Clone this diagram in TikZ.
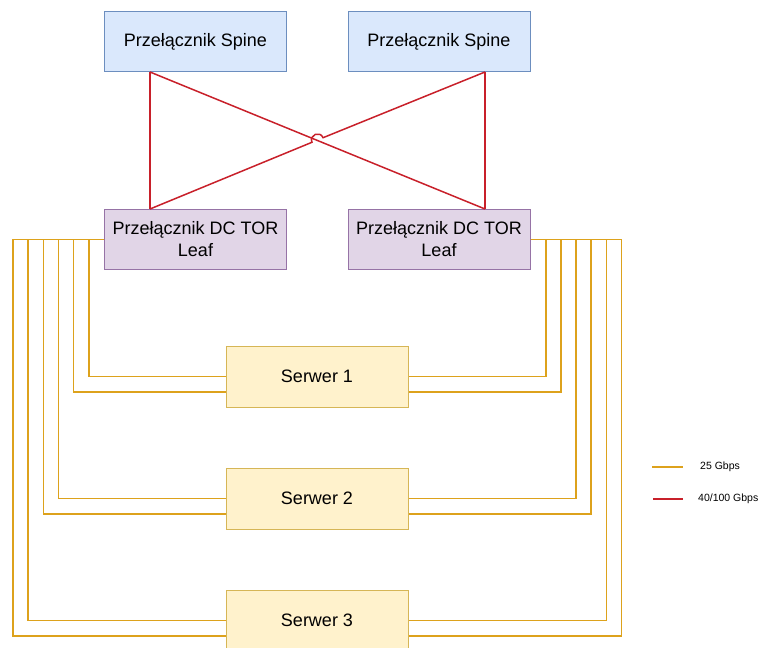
\documentclass[tikz,border=0pt]{standalone}
\usepackage{fontspec}
\setmainfont{Liberation Sans}
\definecolor{spinefill}{HTML}{DAE8FC}
\definecolor{spinedraw}{HTML}{6C8EBF}
\definecolor{leaffill}{HTML}{E1D5E7}
\definecolor{leafdraw}{HTML}{9673A6}
\definecolor{srvfill}{HTML}{FFF2CC}
\definecolor{srvdraw}{HTML}{D6B656}
\definecolor{wireyellow}{HTML}{DDA21C}
\definecolor{wirered}{HTML}{C8202A}
\begin{document}
\begin{tikzpicture}[x=1pt,y=-1pt,
box/.style={draw, line width=1pt, minimum width=182pt, minimum height=60pt, align=center, font=\fontsize{18}{22}\selectfont},
spinebox/.style={box, fill=spinefill, draw=spinedraw},
leafbox/.style={box, fill=leaffill, draw=leafdraw},
srvbox/.style={box, fill=srvfill, draw=srvdraw, minimum height=61pt},
wire/.style={draw=wireyellow, line width=1.4pt, line join=miter},
uplink/.style={draw=wirered, line width=1.5pt},
keytext/.style={anchor=west, inner sep=0pt, font=\fontsize{10.5}{12}\selectfont}]
\useasboundingbox (0,0) rectangle (758,648);
\node[spinebox] (sp1) at (195.5,41.5) {Przełącznik Spine};
\node[spinebox] (sp2) at (439,41.5) {Przełącznik Spine};
\node[leafbox] (lf1) at (195.5,239.5) {Przełącznik DC TOR\\Leaf};
\node[leafbox] (lf2) at (439,239.5) {Przełącznik DC TOR\\Leaf};
\node[srvbox] (srv1) at (317,376.5) {Serwer 1};
\node[srvbox] (srv2) at (317,498.5) {Serwer 2};
\node[srvbox] (srv3) at (317,620.5) {Serwer 3};
\path[uplink] ([xshift=-45.5pt]sp1.south) -- ([xshift=-45.5pt]lf1.north);
\path[uplink] ([xshift=46pt]sp2.south) -- ([xshift=46pt]lf2.north);
\path[uplink] ([xshift=-45.5pt]sp1.south) -- ([xshift=46pt]lf2.north);
\path[uplink] ([xshift=46pt]sp2.south) -- (323.05,137.71) .. controls (320,130.31) and (308.9,134.89) .. (311.95,142.29) -- ([xshift=-45.5pt]lf1.north);
\path[wire] (lf1.west) -- (89,239.5) |- (srv1.west);
\path[wire] (lf1.west) -- (73.5,239.5) |- ([yshift=-15.5pt]srv1.west);
\path[wire] (lf1.west) -- (58.5,239.5) |- (srv2.west);
\path[wire] (lf1.west) -- (43.5,239.5) |- ([yshift=-15.5pt]srv2.west);
\path[wire] (lf1.west) -- (28,239.5) |- (srv3.west);
\path[wire] (lf1.west) -- (13,239.5) |- ([yshift=-15.5pt]srv3.west);
\path[wire] (lf2.east) -- (546,239.5) |- (srv1.east);
\path[wire] (lf2.east) -- (561,239.5) |- ([yshift=-15.5pt]srv1.east);
\path[wire] (lf2.east) -- (576,239.5) |- (srv2.east);
\path[wire] (lf2.east) -- (591,239.5) |- ([yshift=-15.5pt]srv2.east);
\path[wire] (lf2.east) -- (606.5,239.5) |- (srv3.east);
\path[wire] (lf2.east) -- (621.5,239.5) |- ([yshift=-15.5pt]srv3.east);
\coordinate (k1a) at (652,467);
\coordinate (k1b) at (683,467);
\coordinate (k2a) at (653,499);
\coordinate (k2b) at (683,499);
\path[wire] (k1a) -- (k1b);
\path[uplink] (k2a) -- (k2b);
\node[keytext] (k1) at (700,467) {25 Gbps};
\node[keytext] (k2) at (698,499) {40/100 Gbps};
\end{tikzpicture}
\end{document}
